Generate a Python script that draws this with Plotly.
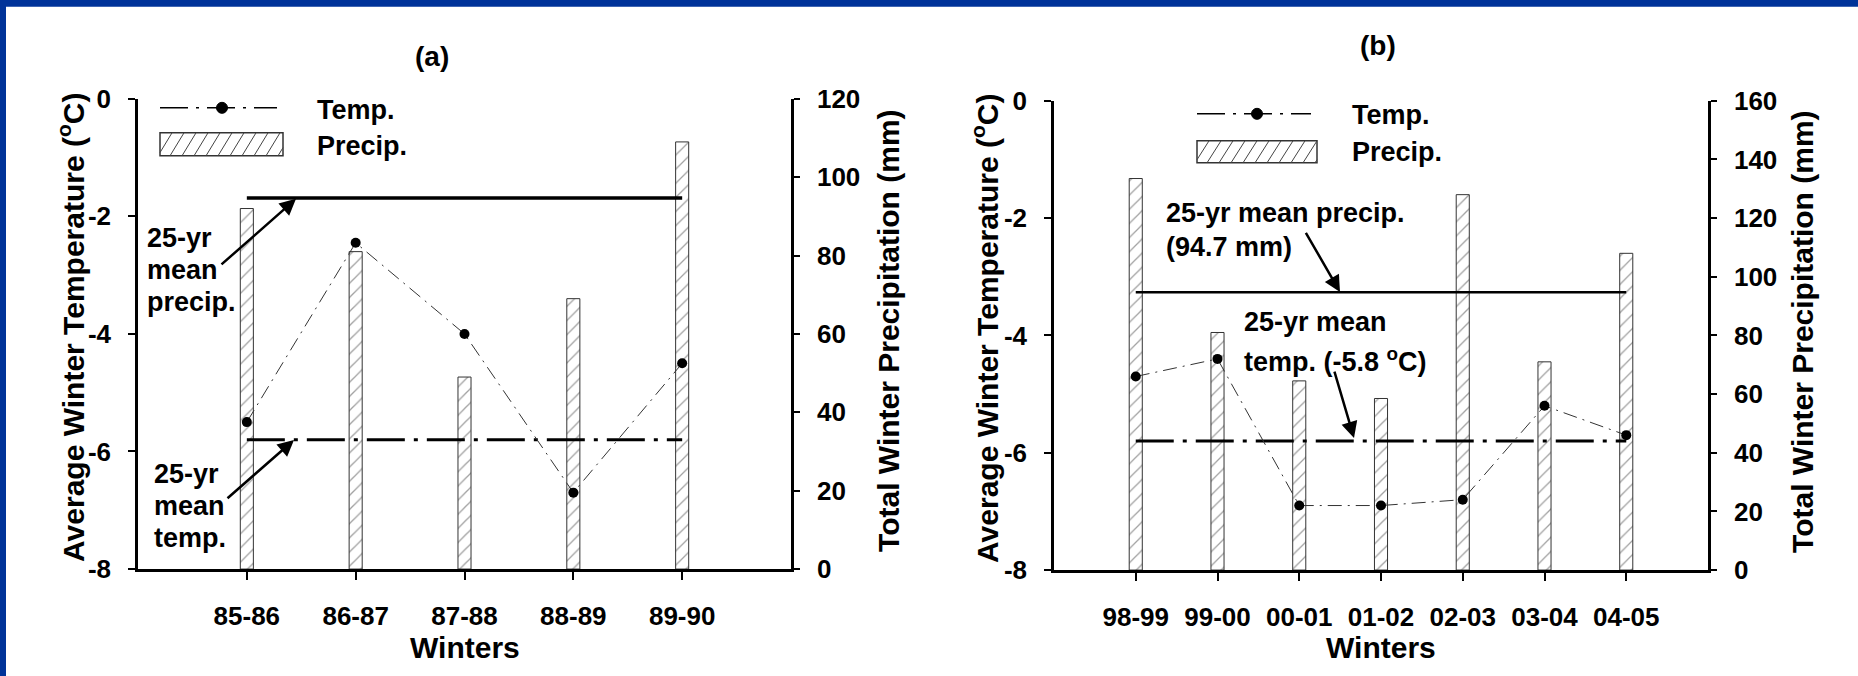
import plotly.graph_objects as go

# Reference picture size; all positions below are given in these pixels.
W, H = 1858, 676
# The photographed page is mapped as screen_y = OFF0 + SC * page_y; the page body is
# pulled up by SHIFT px so that the figure top reaches the top of the picture.
OFF0, SC = 14.6, 0.957
SHIFT = 15
OFF = OFF0 - SC * SHIFT
FIG_H = round((H - OFF) / SC)

# ---------------- data ----------------
winters_a = ["85-86", "86-87", "87-88", "88-89", "89-90"]
temp_a = [-5.5, -2.45, -4.0, -6.7, -4.5]
precip_a = [92, 81, 49, 69, 109]

winters_b = ["98-99", "99-00", "00-01", "01-02", "02-03", "03-04", "04-05"]
temp_b = [-4.7, -4.4, -6.9, -6.9, -6.8, -5.2, -5.7]
precip_b = [133.5, 81, 64.5, 58.5, 128, 71, 108]

mean_precip_mm = 94.7
mean_temp_c = -5.8

temp_ticks = [-8, -6, -4, -2, 0]
precip_ticks_a = [0, 20, 40, 60, 80, 100, 120]
precip_ticks_b = [0, 20, 40, 60, 80, 100, 120, 140, 160]

FONT = "Liberation Sans"


def px(x):
    return x / W


def py(y):
    return 1 - ((y - OFF) / SC) / FIG_H


fig = go.Figure()

HATCH = dict(shape="/", fgcolor="#444444", bgcolor="white", size=10, solidity=0.13)
TEMP_LINE = dict(color="#333333", width=1, dash="14px,6px,2px,6px")


def add_panel(xa, yprec, ytemp, winters, temps, precs, barwidth, meanwidth):
    fig.add_trace(go.Bar(
        x=winters, y=precs, xaxis=xa, yaxis=yprec, width=barwidth,
        marker=dict(color="white", line=dict(color="#333333", width=1), pattern=HATCH),
        showlegend=False))
    fig.add_trace(go.Scatter(
        x=[winters[0], winters[-1]], y=[mean_precip_mm, mean_precip_mm],
        xaxis=xa, yaxis=yprec, mode="lines",
        line=dict(color="black", width=meanwidth), showlegend=False))
    fig.add_trace(go.Scatter(
        x=[winters[0], winters[-1]], y=[mean_temp_c, mean_temp_c],
        xaxis=xa, yaxis=ytemp, mode="lines",
        line=dict(color="black", width=3, dash="38px,9px,4px,9px"), showlegend=False))
    fig.add_trace(go.Scatter(
        x=winters, y=temps, xaxis=xa, yaxis=ytemp, mode="lines+markers",
        line=TEMP_LINE, marker=dict(color="black", size=10), showlegend=False))


add_panel("x", "y", "y2", winters_a, temp_a, precip_a, 0.12, 3.5)
add_panel("x2", "y3", "y4", winters_b, temp_b, precip_b, 0.16, 2.5)

tickfont = dict(family=FONT, size=26, color="black", weight="bold")
axis_common = dict(showgrid=False, zeroline=False, showline=True, linecolor="black",
                   linewidth=2.5, ticks="outside", tickwidth=2, tickcolor="black",
                   tickfont=tickfont)

ya_dom = [py(569), py(99)]
yb_dom = [py(570), py(101)]

fig.update_layout(
    width=W, height=FIG_H, margin=dict(l=0, r=0, t=0, b=0, pad=0),
    paper_bgcolor="white", plot_bgcolor="rgba(0,0,0,0)",
    barmode="overlay",
    xaxis=dict(domain=[px(138), px(791)], anchor="y", type="category",
               range=[-1, len(winters_a)], ticklen=8, ticklabelstandoff=14, **axis_common),
    yaxis=dict(domain=ya_dom, anchor="x", side="right", range=[0, 120],
               tickvals=precip_ticks_a, ticktext=[str(v) for v in precip_ticks_a],
               ticklen=6, ticklabelstandoff=12, **axis_common),
    yaxis2=dict(overlaying="y", anchor="x", side="left", range=[-8, 0],
                tickvals=temp_ticks, ticktext=[str(v) for v in temp_ticks],
                ticklen=7, ticklabelstandoff=12, **axis_common),
    xaxis2=dict(domain=[px(1054), px(1708)], anchor="y3", type="category",
                range=[-1, len(winters_b)], ticklen=8, ticklabelstandoff=14, **axis_common),
    yaxis3=dict(domain=yb_dom, anchor="x2", side="right", range=[0, 160],
                tickvals=precip_ticks_b, ticktext=[str(v) for v in precip_ticks_b],
                ticklen=6, ticklabelstandoff=12, **axis_common),
    yaxis4=dict(overlaying="y3", anchor="x2", side="left", range=[-8, 0],
                tickvals=temp_ticks, ticktext=[str(v) for v in temp_ticks],
                ticklen=7, ticklabelstandoff=12, **axis_common),
)

shapes = []
annotations = []

# blue slide border (top and left)
BLUE = "#003399"
shapes.append(dict(type="rect", xref="paper", yref="paper", x0=0, x1=1, y0=py(7), y1=1,
                   fillcolor=BLUE, line=dict(width=0), layer="above"))
shapes.append(dict(type="rect", xref="paper", yref="paper", x0=0, x1=px(6), y0=0, y1=1,
                   fillcolor=BLUE, line=dict(width=0), layer="above"))


def txt(x, y, s, size=27, bold=True, xanchor="left", angle=0):
    annotations.append(dict(
        x=px(x), y=py(y), xref="paper", yref="paper", text=s, showarrow=False,
        xanchor=xanchor, yanchor="middle", textangle=angle,
        font=dict(family=FONT, size=size, color="black", weight="bold" if bold else "normal")))


def arrow(tipx, tipy, tailx, taily):
    annotations.append(dict(
        x=px(tipx), y=py(tipy), xref="paper", yref="paper", text="", showarrow=True,
        ax=tailx - tipx, ay=(taily - tipy) / SC, arrowhead=2, arrowsize=1.3, arrowwidth=2.5,
        arrowcolor="black", standoff=0))


def legend(x0, x1, yline, xm, rx1, ry0, ry1):
    shapes.append(dict(type="line", xref="paper", yref="paper", x0=px(x0), x1=px(x1),
                       y0=py(yline), y1=py(yline),
                       line=dict(color="black", width=1.5, dash="28px,8px,3px,8px")))
    r = 5.5
    shapes.append(dict(type="circle", xref="paper", yref="paper", x0=px(xm - r), x1=px(xm + r),
                       y0=py(yline + r), y1=py(yline - r), fillcolor="black",
                       line=dict(color="black", width=1)))
    # hatched rectangle
    shapes.append(dict(type="rect", xref="paper", yref="paper", x0=px(x0), x1=px(rx1),
                       y0=py(ry1), y1=py(ry0), fillcolor="white",
                       line=dict(color="#333333", width=1.5)))
    h = ry1 - ry0
    dx = 14.0
    s = x0 - dx
    while s < rx1:
        ax_, ay_ = s, ry1
        bx_, by_ = s + dx, ry0
        if ax_ < x0:
            t = (x0 - ax_) / dx
            ax_, ay_ = x0, ry1 - t * h
        if bx_ > rx1:
            t = (bx_ - rx1) / dx
            bx_, by_ = rx1, ry0 + t * h
        if bx_ > ax_:
            shapes.append(dict(type="line", xref="paper", yref="paper", x0=px(ax_), x1=px(bx_),
                               y0=py(ay_), y1=py(by_), line=dict(color="#444444", width=1)))
        s += 12


# legends
legend(160, 277, 108, 222, 283, 133, 156)
txt(315, 110, "Temp.")
txt(315, 146, "Precip.")
legend(1197, 1311, 114, 1257, 1317, 141, 163)
txt(1350, 115, "Temp.")
txt(1350, 152, "Precip.")

# panel titles
txt(432, 57, "(a)", size=28, xanchor="center")
txt(1378, 46, "(b)", size=28, xanchor="center")

# axis titles
ytitle_l = "Average Winter Temperature (<sup>o</sup>C)"
ytitle_r = "Total Winter Precipitation (mm)"
txt(71, 328, ytitle_l, size=30, xanchor="center", angle=-90)
txt(889, 331, ytitle_r, size=30, xanchor="center", angle=-90)
txt(985, 328, ytitle_l, size=30, xanchor="center", angle=-90)
txt(1803, 332, ytitle_r, size=30, xanchor="center", angle=-90)
txt(465, 647, "Winters", size=30, xanchor="center")
txt(1381, 647, "Winters", size=30, xanchor="center")

# panel (a) annotations
txt(145, 238, "25-yr")
txt(145, 270, "mean")
txt(145, 302, "precip.")
arrow(296, 199, 220, 263)
txt(152, 474, "25-yr")
txt(152, 506, "mean")
txt(152, 538, "temp.")
arrow(294, 440, 226, 497)

# panel (b) annotations
txt(1164, 213, "25-yr mean precip.")
txt(1164, 247, "(94.7 mm)")
arrow(1340, 292, 1305, 234)
txt(1242, 322, "25-yr mean")
txt(1242, 360, "temp. (-5.8 <sup>o</sup>C)")
arrow(1354, 438, 1334, 373)

fig.update_layout(shapes=shapes, annotations=annotations)

fig.write_html("out.html", config=dict(displayModeBar=False),
               post_script="document.body.style.margin='0px';document.body.style.marginTop='-%dpx';" % SHIFT)
